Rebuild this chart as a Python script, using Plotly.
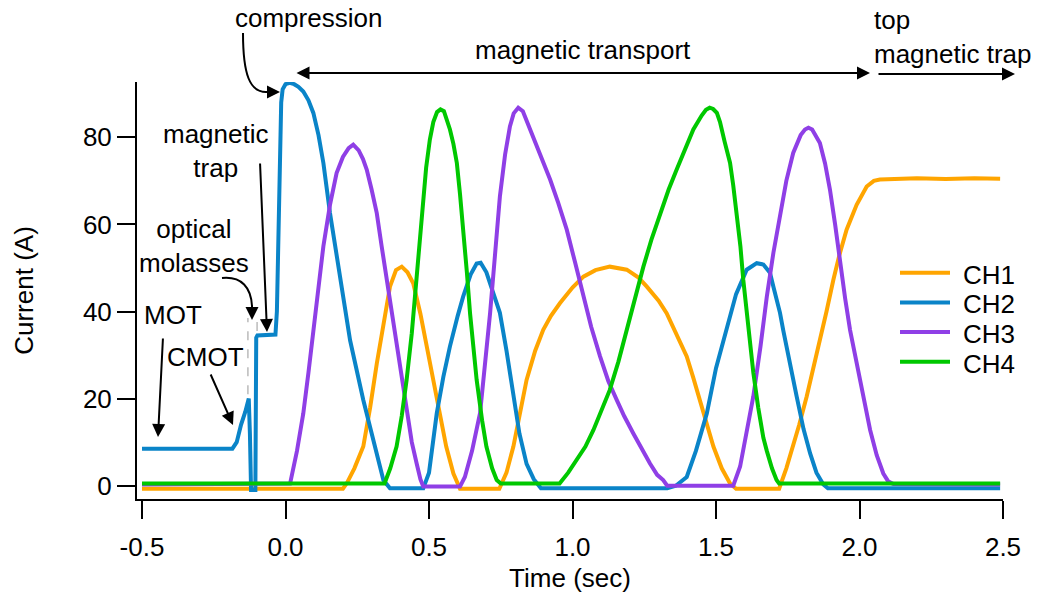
import plotly.graph_objects as go

# ---------------- data ----------------
ch1_t = [-0.5, 0.2, 0.213, 0.24, 0.271, 0.295, 0.318, 0.34, 0.364, 0.385, 0.405, 0.425, 0.445, 0.47, 0.492,
         0.515, 0.538, 0.56, 0.585, 0.608, 0.745, 0.77, 0.794, 0.815, 0.84, 0.87, 0.898, 0.925, 0.956, 1.0,
         1.038, 1.08, 1.13, 1.189, 1.23, 1.259, 1.30, 1.328, 1.36, 1.398, 1.42, 1.444, 1.47, 1.491, 1.52,
         1.549, 1.57, 1.72, 1.745, 1.769, 1.79, 1.816, 1.84, 1.862, 1.885, 1.909, 1.93, 1.955, 1.99, 2.025,
         2.05, 2.071, 2.2, 2.3, 2.4, 2.49]
ch1_i = [-0.7, -0.7, 0.5, 4, 9, 18, 28, 37, 45.7, 49.5, 50.3, 49, 46.5, 39.5, 32,
         24, 16.6, 9, 2.8, -0.7, -0.7, 3, 9, 16.5, 24.3, 31, 35.8, 39, 41.9, 45.5,
         48, 49.5, 50.3, 49.6, 47.8, 45.7, 42.5, 39.6, 35, 29.7, 25, 19.7, 14, 9, 4,
         0.5, -0.7, -0.7, 4, 9, 14, 20.5, 27, 33.5, 40, 47.3, 53, 58.8, 64.5, 68.7,
         70, 70.3, 70.6, 70.4, 70.6, 70.5]

ch2_t = [-0.5, -0.185, -0.17, -0.155, -0.14, -0.128, -0.124, -0.12, -0.105, -0.102, -0.098, -0.06, -0.035,
         -0.03, -0.025, -0.02, -0.015, -0.01, 0.0, 0.015, 0.03, 0.045, 0.062, 0.08, 0.097, 0.115, 0.132,
         0.155, 0.19, 0.225, 0.271, 0.318, 0.341, 0.364, 0.48, 0.5, 0.527, 0.55, 0.573, 0.6, 0.619, 0.645,
         0.666, 0.68, 0.70, 0.72, 0.747, 0.77, 0.793, 0.815, 0.84, 0.865, 0.89, 1.33, 1.36, 1.398, 1.43,
         1.468, 1.50, 1.537, 1.57, 1.607, 1.642, 1.665, 1.688, 1.70, 1.723, 1.734, 1.76, 1.781, 1.805,
         1.828, 1.85, 1.874, 1.89, 2.49]
ch2_i = [8.5, 8.5, 10, 14, 17, 20, 12, -1, -1, 34, 34.5, 34.5, 34.7,
         40, 60, 80, 88, 91, 92.2, 92.5, 92.2, 91.6, 90.5, 88.5, 85.6, 80.5, 74.1,
         62.6, 47.3, 33.4, 19.7, 6.7, 1.3, -0.6, -0.6, 3, 16.6, 25, 32, 39, 43.4, 48.5,
         51, 51.2, 49, 45, 39.7, 31, 21, 12, 5, 1.5, -0.6, -0.6, 0, 2, 8,
         16.6, 27, 35.8, 44, 49.6, 51.1, 50.8, 48.9, 45.7, 39.7, 35.8, 27, 20.5, 13,
         7.4, 3, 0.3, -0.6, -0.6]

ch3_t = [-0.5, 0.0, 0.016, 0.04, 0.062, 0.08, 0.097, 0.115, 0.132, 0.155, 0.178, 0.2, 0.22, 0.236, 0.255,
         0.27, 0.283, 0.3, 0.318, 0.335, 0.353, 0.37, 0.387, 0.405, 0.422, 0.44, 0.457, 0.47, 0.48, 0.608,
         0.625, 0.65, 0.678, 0.695, 0.713, 0.73, 0.747, 0.765, 0.782, 0.795, 0.811, 0.827, 0.845, 0.863,
         0.89, 0.922, 0.95, 0.98, 1.01, 1.038, 1.065, 1.096, 1.125, 1.154, 1.18, 1.212, 1.24, 1.27, 1.295,
         1.316, 1.33, 1.56, 1.584, 1.607, 1.63, 1.655, 1.677, 1.70, 1.723, 1.745, 1.769, 1.795, 1.81, 1.822,
         1.835, 1.848, 1.862, 1.88, 1.897, 1.915, 1.932, 1.95, 1.967, 1.985, 2.002, 2.02, 2.037, 2.06, 2.083,
         2.1, 2.118, 2.49]
ch3_i = [0.3, 0.3, 0.5, 8, 16.6, 26, 35.8, 46, 55, 64.5, 71.8, 75.5, 77.5, 78.3, 77,
         75, 72.6, 68, 62.6, 55, 47.3, 39.5, 32, 24, 16.6, 10, 5.1, 1.5, -0.2, -0.2,
         2, 8, 16.7, 27, 39.7, 53, 66.4, 76, 82.5, 85.5, 86.8, 86, 83, 80.2,
         76, 70.3, 65, 58.8, 51, 43.4, 36.5, 29.7, 24, 19.7, 16, 12, 8.5, 5.1, 2.5,
         1.3, 0, 0, 4.4, 12, 20.5, 32, 43.4, 53.5, 62.6, 70, 76.4, 80.5, 81.8, 82.2,
         81.8, 80.5, 78.7, 74, 68, 60, 51.1, 43, 35.8, 30, 24.3, 18, 12.8, 7, 2.8,
         1, 0.4, 0.3]

ch4_t = [-0.5, 0.345, 0.365, 0.387, 0.405, 0.422, 0.44, 0.457, 0.47, 0.48, 0.49, 0.503, 0.515, 0.528, 0.54,
         0.552, 0.563, 0.573, 0.585, 0.597, 0.608, 0.62, 0.632, 0.643, 0.655, 0.666, 0.685, 0.70, 0.72, 0.736,
         0.75, 0.955, 0.985, 1.015, 1.045, 1.073, 1.10, 1.13, 1.16, 1.189, 1.22, 1.247, 1.275, 1.305,
         1.335, 1.363, 1.39, 1.421, 1.45, 1.465, 1.478, 1.49, 1.503, 1.514, 1.53, 1.549, 1.56, 1.572, 1.585,
         1.595, 1.61, 1.63, 1.647, 1.665, 1.677, 1.695, 1.711, 1.72, 2.49]
ch4_i = [0.5, 0.5, 4, 9, 16, 24.3, 35, 47.3, 58, 66.4, 73, 79.5, 83.5, 85.8, 86.4,
         86, 84, 81.8, 78.5, 74.1, 67, 58.8, 49, 39.6, 31, 24.3, 15, 9, 4, 1.3,
         0.5, 0.5, 3, 5.9, 9, 12.8, 17, 22, 28.5, 35.8, 43, 50.3, 56.5, 62.6,
         68, 72.6, 77, 81.8, 85, 86.3, 86.8, 86.5, 85.6, 83.5, 79, 74.1, 69, 62.6, 55,
         47.3, 38, 26, 18, 11, 8, 4, 1.3, 0.5, 0.5]

series_names = ["CH1", "CH2", "CH3", "CH4"]
series_colors = ["#FFA500", "#0A84C8", "#8F3FE6", "#00C800"]

x_ticks = [-0.5, 0.0, 0.5, 1.0, 1.5, 2.0, 2.5]
x_tick_text = ["-0.5", "0.0", "0.5", "1.0", "1.5", "2.0", "2.5"]
y_ticks = [0, 20, 40, 60, 80]

marker_times = [-0.131, -0.099]   # dashed grey markers (optical molasses start/end)

# ---------------- layout geometry ----------------
W, H = 1039, 599
L, R, T, B = 137, 36, 82, 100
PW, PH = W - L - R, H - T - B
FONT = "Liberation Sans, Arial, Helvetica, sans-serif"
FS = 26
LW = 4


def px(x):
    return (x - L) / PW


def py(y):
    return (H - B - y) / PH


fig = go.Figure()
for t, i, name, col in zip([ch1_t, ch2_t, ch3_t, ch4_t], [ch1_i, ch2_i, ch3_i, ch4_i],
                           series_names, series_colors):
    fig.add_trace(go.Scatter(x=t, y=i, mode="lines", name=name, showlegend=False,
                             line=dict(color=col, width=LW)))

# legend drawn as line samples + labels
for k, (name, col) in enumerate(zip(series_names, series_colors)):
    ly = 272.7 + 29.7 * k
    fig.add_shape(type="line", xref="paper", yref="paper", x0=px(900), x1=px(950), y0=py(ly), y1=py(ly),
                  line=dict(color=col, width=LW))
    fig.add_annotation(xref="paper", yref="paper", x=px(961), y=py(ly + 2), text=name, showarrow=False,
                       xanchor="left", yanchor="middle", font=dict(family=FONT, size=FS, color="black"))

# dashed grey markers
fig.add_shape(type="line", xref="x", yref="y", x0=marker_times[0], x1=marker_times[0], y0=21, y1=38.5,
              line=dict(color="#BBBBBB", width=1.5, dash="dash"))
fig.add_shape(type="line", xref="x", yref="y", x0=marker_times[1], x1=marker_times[1], y0=35.5, y1=38.5,
              line=dict(color="#BBBBBB", width=1.5, dash="dash"))


def arrow(tail, tip, both=False):
    fig.add_annotation(xref="paper", yref="paper", x=px(tip[0]), y=py(tip[1]),
                       ax=tail[0] - tip[0], ay=tail[1] - tip[1], axref="pixel", ayref="pixel",
                       text="", showarrow=True, arrowhead=2, arrowsize=1.3, arrowwidth=2,
                       startarrowhead=2, startarrowsize=1.3,
                       arrowside="end+start" if both else "end",
                       arrowcolor="black", standoff=0, startstandoff=0)


def label(text, x, y, xanchor="center"):
    fig.add_annotation(xref="paper", yref="paper", x=px(x), y=py(y), text=text, showarrow=False,
                       xanchor=xanchor, yanchor="middle", align=xanchor if xanchor != "center" else "center",
                       font=dict(family=FONT, size=FS, color="black"))


def curve(path_pts):
    (x0, y0), (c1x, c1y), (c2x, c2y), (x1, y1) = path_pts
    p = "M{},{} C{},{} {},{} {},{}".format(px(x0), py(y0), px(c1x), py(c1y), px(c2x), py(c2y), px(x1), py(y1))
    fig.add_shape(type="path", xref="paper", yref="paper", path=p, line=dict(color="black", width=2))


# compression
label("compression", 308, 18)
curve([(243, 33), (243, 75), (250, 92), (266, 92)])
arrow((264, 92), (280, 92))
# magnetic transport
label("magnetic transport", 583, 50)
arrow((295, 73), (870, 73), both=True)
# top magnetic trap
label("top<br>magnetic trap", 872, 37, xanchor="left")
arrow((877, 74), (1015, 74))
# magnetic trap
label("magnetic<br>trap", 216, 151)
arrow((260, 162), (267, 332))
# optical molasses
label("optical<br>molasses", 194, 246)
curve([(222, 278), (242, 276), (251, 288), (252, 306)])
arrow((252, 304), (252, 320))
# MOT / CMOT
label("MOT", 173, 315)
arrow((163, 337), (158, 437))
label("CMOT", 205, 357)
arrow((210, 373), (233, 425))

axis_common = dict(showline=True, linecolor="black", linewidth=2, ticks="outside", ticklen=18,
                   tickwidth=2, tickcolor="black", showgrid=False, zeroline=False,
                   tickfont=dict(family=FONT, size=FS, color="black"))

fig.update_layout(
    width=W, height=H,
    margin=dict(l=L, r=R, t=T, b=B),
    paper_bgcolor="white", plot_bgcolor="white",
    font=dict(family=FONT, size=FS, color="black"),
    xaxis=dict(range=[-0.5 - 5 / 287, 2.5], tickvals=x_ticks, ticktext=x_tick_text, ticklabelstandoff=6,
               title=dict(text="Time (sec)", font=dict(family=FONT, size=FS), standoff=8),
               **axis_common),
    yaxis=dict(range=[-3.05, 92.7], tickvals=y_ticks,
               title=dict(text="Current (A)", font=dict(family=FONT, size=FS), standoff=42),
               **axis_common),
    showlegend=False,
)

fig.write_html("out.html")
